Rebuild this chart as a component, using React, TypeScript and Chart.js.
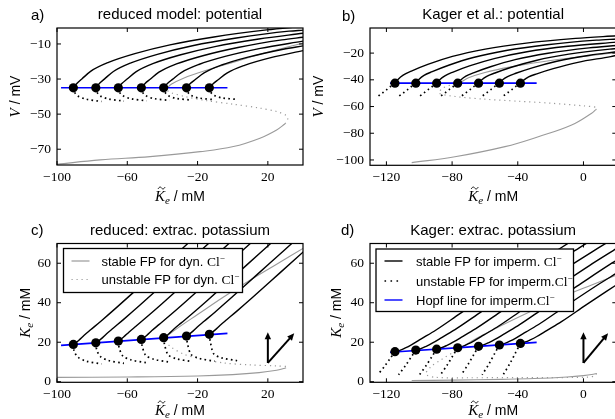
import React, { useEffect, useRef } from "react";
import { Chart, registerables } from "chart.js";

Chart.register(...registerables);

const SERIF = '"Liberation Serif", "DejaVu Serif", serif';
const SANS = '"Liberation Sans", Arial, "DejaVu Sans", sans-serif';
const GRAY = "#9a9a9a";
const BLUE = "#0000ff";

// ---------------- Panel a: reduced model, potential ----------------
const A_FP_X = [-90.7, -77.9, -65.1, -52.0, -39.3, -26.3, -13.3];
const A_FP_V = [-35, -35, -35, -35, -35, -35, -35];
const A_HOPF_X = [-97.7, -3];
const A_HOPF_V = [-35, -35];
const A_STABLE_X = [
  [-90.7, -88.7, -85.7, -80.7, -70.7, -55.7, -35.7, -10.7, 19.3, 39.3],
  [-77.9, -75.9, -72.9, -67.9, -57.9, -42.9, -22.9, 2.1, 32.1, 40],
  [-65.1, -63.1, -60.1, -55.1, -45.1, -30.1, -10.1, 14.9, 40],
  [-52, -50, -47, -42, -32, -17, 3, 28, 40],
  [-39.3, -37.3, -34.3, -29.3, -19.3, -4.3, 15.7, 40],
  [-26.3, -24.3, -21.3, -16.3, -6.3, 8.7, 28.7, 40],
  [-13.3, -11.3, -8.3, -3.3, 6.7, 21.7, 40],
];
const A_STABLE_V = [
  [-35, -32.5, -29.8, -25.5, -20.5, -15.5, -10.5, -6, -2, 0],
  [-35, -32.55, -29.9, -25.7, -20.8, -15.9, -11, -6.6, -2.7, -2.1],
  [-35, -32.6, -30, -25.9, -21.1, -16.3, -11.5, -7.2, -3.9],
  [-35, -32.65, -30.1, -26.1, -21.4, -16.7, -12, -7.7, -6.2],
  [-35, -32.7, -30.2, -26.3, -21.7, -17.1, -12.5, -8.4],
  [-35, -32.75, -30.3, -26.5, -22, -17.5, -13, -11.1],
  [-35, -32.8, -30.4, -26.6, -22.2, -17.8, -13.8],
];
const A_UNSTABLE_X = [
  [-90.7, -90.2, -88.2, -83.7, -74.7],
  [-77.9, -77.4, -75.4, -70.9, -61.9],
  [-65.1, -64.6, -62.6, -58.1, -49.1],
  [-52, -51.5, -49.5, -45, -36],
  [-39.3, -38.8, -36.8, -32.3, -23.3],
  [-26.3, -25.8, -23.8, -19.3, -10.3],
  [-13.3, -12.8, -10.8, -6.3, 2.7],
];
const A_UNSTABLE_V = [
  [-35, -37.2, -39.6, -41.4, -42.8],
  [-35, -37.2, -39.6, -41.3, -42.6],
  [-35, -37.2, -39.5, -41.2, -42.4],
  [-35, -37.2, -39.5, -41.1, -42.2],
  [-35, -37.1, -39.4, -41, -42],
  [-35, -37.1, -39.3, -40.8, -41.8],
  [-35, -37.1, -39.2, -40.7, -41.6],
];
const A_GRAY_LOW_X = [-100, -75.5, -47, -18.6, 0.4, 15.5, 25, 29.8];
const A_GRAY_LOW_V = [-78.6, -76.1, -74.2, -71.4, -68.5, -63.7, -59, -55.5];
const A_GRAY_MID_X = [29.8, 31.3, 30.5, 25, 15, 0, -15, -27, -35, -38];
const A_GRAY_MID_V = [-55.5, -53, -50.8, -48.5, -46.5, -44.3, -42.3, -40, -37.8, -36];
const A_GRAY_UP_X = [-38, -35, -28, -15, 0, 15, 30, 40];
const A_GRAY_UP_V = [-36, -33, -29.5, -25, -20.5, -16, -12, -9.5];

// ---------------- Panel b: Kager, potential ----------------
const B_FP_X = [-114.8, -102.1, -89.4, -76.6, -63.9, -51.2, -38.4];
const B_FP_V = [-42.5, -42.5, -42.5, -42.5, -42.5, -42.5, -42.5];
const B_HOPF_X = [-117.8, -28.5];
const B_HOPF_V = [-42.5, -42.5];
const B_STABLE_X = [
  [-114.8, -112.8, -109.8, -104.8, -94.8, -79.8, -59.8, -34.8, -4.8, 20.2],
  [-102.1, -100.1, -97.1, -92.1, -82.1, -67.1, -47.1, -22.1, 7.9, 20.2],
  [-89.4, -87.4, -84.4, -79.4, -69.4, -54.4, -34.4, -9.4, 20.2],
  [-76.6, -74.6, -71.6, -66.6, -56.6, -41.6, -21.6, 3.4, 20.2],
  [-63.9, -61.9, -58.9, -53.9, -43.9, -28.9, -8.9, 16.1, 20.2],
  [-51.2, -49.2, -46.2, -41.2, -31.2, -16.2, 3.8, 20.2],
  [-38.4, -36.4, -33.4, -28.4, -18.4, -3.4, 16.6, 20.2],
];
const B_STABLE_V = [
  [-42.5, -39.5, -36.5, -33.5, -28.5, -22.5, -17, -12.5, -9, -7],
  [-42.5, -39.6, -36.7, -33.9, -29.1, -23.3, -18, -13.7, -10.3, -9.4],
  [-42.5, -39.7, -37, -34.2, -29.6, -24.1, -19, -14.9, -11.8],
  [-42.5, -39.9, -37.2, -34.6, -30.2, -24.9, -20.1, -16.1, -14.3],
  [-42.5, -40, -37.4, -34.9, -30.6, -25.5, -20.8, -17, -16.6],
  [-42.5, -40, -37.6, -35.1, -31, -26.1, -21.6, -19],
  [-42.5, -40.2, -37.8, -35.5, -31.6, -26.9, -22.6, -21.7],
];
const B_UNSTABLE_X = [
  [-114.8, -117.3, -119.8, -122.6, -125.3],
  [-102.1, -104.6, -107.1, -109.9, -112.6],
  [-89.4, -91.9, -94.4, -97.2, -99.9],
  [-76.6, -79.1, -81.6, -84.4, -87.1],
  [-63.9, -66.4, -68.9, -71.7, -74.4],
  [-51.2, -53.7, -56.2, -59, -61.7],
  [-38.4, -40.9, -43.4, -46.2, -48.9],
];
const B_UNSTABLE_V = [
  [-42.5, -44.8, -47.3, -50, -52.5],
  [-42.5, -44.8, -47.3, -50, -52.4],
  [-42.5, -44.8, -47.2, -49.9, -52.4],
  [-42.5, -44.8, -47.2, -49.9, -52.3],
  [-42.5, -44.7, -47.2, -49.8, -52.3],
  [-42.5, -44.7, -47.1, -49.8, -52.2],
  [-42.5, -44.7, -47.1, -49.7, -52.2],
];
const B_GRAY_LOW_X = [-104.6, -78.3, -47.8, -27.5, -7.2, 5, 7.4];
const B_GRAY_LOW_V = [-102, -97.6, -90, -82.6, -73.8, -65, -62.5];
const B_GRAY_MID_X = [7.4, 8.4, 0, -20, -40, -60, -78, -88, -86, -80, -75];
const B_GRAY_MID_V = [-62.5, -60.8, -59.5, -57.5, -56, -54.5, -52.5, -50, -46.5, -43.5, -42];
const B_GRAY_UP_X = [-75, -70, -60, -45, -25, 0, 20.2];
const B_GRAY_UP_V = [-42, -38.5, -34.5, -30.5, -26.5, -22.5, -19.5];

// ---------------- Panel c: reduced, extracellular potassium ----------------
const C_FP_X = [-90.7, -77.9, -65.1, -52.0, -39.3, -26.3, -13.3];
const C_FP_K = [18.9, 19.7, 20.6, 21.4, 22.3, 23.1, 24.0];
const C_HOPF_X = [-97.7, -3];
const C_HOPF_K = [18.4, 24.5];
const C_STABLE_X = [
  [-90.7, -87.7, -84.7, -80.7, -74.7, -65.7, -50.7, -35.7, -20.7],
  [-77.9, -74.9, -71.9, -67.9, -61.9, -52.9, -37.9, -22.9, -7.9],
  [-65.1, -62.1, -59.1, -55.1, -49.1, -40.1, -25.1, -10.1, 4.9],
  [-52, -49, -46, -42, -36, -27, -12, 3, 18],
  [-39.3, -36.3, -33.3, -29.3, -23.3, -14.3, 0.7, 15.7, 30.7],
  [-26.3, -23.3, -20.3, -16.3, -10.3, -1.3, 13.7, 28.7, 43.7],
  [-13.3, -10.3, -7.3, -3.3, 2.7, 11.7, 26.7, 41.7],
];
const C_STABLE_K = [
  [18.9, 20.9, 23.4, 26.4, 30.9, 37.9, 49.9, 61.9, 73.9],
  [19.7, 21.7, 24.2, 27.2, 31.7, 38.7, 50.7, 62.7, 74.7],
  [20.6, 22.6, 25.1, 28.1, 32.6, 39.6, 51.6, 63.6, 75.6],
  [21.4, 23.4, 25.9, 28.9, 33.4, 40.4, 52.4, 64.4, 76.4],
  [22.3, 24.3, 26.8, 29.8, 34.3, 41.3, 53.3, 65.3, 77.3],
  [23.1, 25.1, 27.6, 30.6, 35.1, 42.1, 54.1, 66.1, 78.1],
  [24, 26, 28.5, 31.5, 36, 43, 55, 67],
];
const C_UNSTABLE_X = [
  [-90.7, -90.2, -88.2, -83.7, -74.7],
  [-77.9, -77.4, -75.4, -70.9, -61.9],
  [-65.1, -64.6, -62.6, -58.1, -49.1],
  [-52, -51.5, -49.5, -45, -36],
  [-39.3, -38.8, -36.8, -32.3, -23.3],
  [-26.3, -25.8, -23.8, -19.3, -10.3],
  [-13.3, -12.8, -10.8, -6.3, 2.7],
];
const C_UNSTABLE_K = [
  [18.9, 15.4, 12.5, 10.5, 9],
  [19.7, 16.2, 12.8, 10.8, 9.3],
  [20.6, 17.1, 13.1, 11.1, 9.6],
  [21.4, 17.9, 13.4, 11.4, 9.9],
  [22.3, 18.8, 13.7, 11.7, 10.2],
  [23.1, 19.6, 13.9, 11.9, 10.4],
  [24, 20.5, 14.1, 12.1, 10.6],
];
const C_GRAY_LOW_X = [-100, -60, -20, 0, 15, 25, 29.8];
const C_GRAY_LOW_K = [2.2, 2.4, 2.9, 3.6, 4.6, 5.8, 6.8];
const C_GRAY_MID_X = [29.8, 31.3, 25, 10, -5, -18, -28, -35, -39];
const C_GRAY_MID_K = [6.8, 7.6, 8, 8.5, 9.5, 11.5, 14, 17.5, 21];
const C_GRAY_UP_X = [-39, -37, -30, -20, -5, 10, 25, 40];
const C_GRAY_UP_K = [21, 23.3, 28, 34, 43, 51.5, 59.5, 67.5];
const C_ARROW_FROM = [20, 9.5];
const C_ARROW_TO_X = [20, 35];
const C_ARROW_TO_K = [25, 24.5];

// ---------------- Panel d: Kager, extracellular potassium ----------------
const D_FP_X = [-114.8, -102.1, -89.4, -76.6, -63.9, -51.2, -38.4];
const D_FP_K = [15.2, 16.0, 16.5, 17.2, 17.9, 18.6, 19.4];
const D_HOPF_X = [-117.8, -28.5];
const D_HOPF_K = [14.9, 19.9];
const D_STABLE_X = [
  [-114.8, -111.8, -108.8, -104.8, -98.8, -89.8, -74.8, -54.8, -34.8, -14.8, 0.2],
  [-102.1, -99.1, -96.1, -92.1, -86.1, -77.1, -62.1, -42.1, -22.1, -2.1, 12.9],
  [-89.4, -86.4, -83.4, -79.4, -73.4, -64.4, -49.4, -29.4, -9.4, 10.6, 20.2],
  [-76.6, -73.6, -70.6, -66.6, -60.6, -51.6, -36.6, -16.6, 3.4, 20.2],
  [-63.9, -60.9, -57.9, -53.9, -47.9, -38.9, -23.9, -3.9, 16.1, 20.2],
  [-51.2, -48.2, -45.2, -41.2, -35.2, -26.2, -11.2, 8.8, 20.2],
  [-38.4, -35.4, -32.4, -28.4, -22.4, -13.4, 1.6, 20.2],
];
const D_STABLE_K = [
  [15.2, 15.9, 17, 18.7, 21.7, 26.2, 34.7, 45.7, 56.7, 67.2, 75.2],
  [16, 16.7, 17.8, 19.5, 22.5, 27, 35.5, 46.5, 57.5, 68, 76],
  [16.5, 17.2, 18.3, 20, 23, 27.5, 36, 47, 58, 68.5, 73.5],
  [17.2, 17.9, 19, 20.7, 23.7, 28.2, 36.7, 47.7, 58.7, 67.5],
  [17.9, 18.6, 19.7, 21.4, 24.4, 28.9, 37.4, 48.4, 59.4, 61.5],
  [18.6, 19.3, 20.4, 22.1, 25.1, 29.6, 38.1, 49.1, 55],
  [19.4, 20.1, 21.2, 22.9, 25.9, 30.4, 38.9, 49.1],
];
const D_UNSTABLE_X = [
  [-114.8, -117.8, -121, -125.3],
  [-102.1, -105.1, -108.3, -112.6],
  [-89.4, -92.4, -95.6, -99.9],
  [-76.6, -79.6, -82.8, -87.1],
  [-63.9, -66.9, -70.1, -74.4],
  [-51.2, -54.2, -57.4, -61.7],
  [-38.4, -41.4, -44.6, -48.9],
];
const D_UNSTABLE_K = [
  [15.2, 11.7, 7.95, 3.5],
  [16, 12.25, 8.25, 3.5],
  [16.5, 12.6, 8.44, 3.5],
  [17.2, 13.1, 8.7, 3.5],
  [17.9, 13.6, 9, 3.5],
  [18.6, 14.1, 9.2, 3.5],
  [19.4, 14.6, 9.5, 3.5],
];
const D_GRAY_LOW_X = [-104.6, -80, -50, -30, -10, 0, 6, 8];
const D_GRAY_LOW_K = [0.6, 0.8, 1.2, 1.6, 2.4, 3.1, 3.8, 4.2];
const D_GRAY_MID_X = [8, 7, 3, -20, -40, -70, -90, -96, -93, -86, -79, -75];
const D_GRAY_MID_K = [4.2, 3, 2.3, 2.1, 2.1, 2, 2.2, 3.8, 7.5, 11.5, 15, 16.8];
const D_GRAY_UP_X = [-75, -72, -65, -50, -30, -10, 5, 20.2];
const D_GRAY_UP_K = [16.8, 18.5, 22, 28.5, 36.5, 44, 49, 54];
const D_ARROW_FROM = [0, 9.5];
const D_ARROW_TO_X = [0, 15];
const D_ARROW_TO_K = [25, 24.5];

// ---------------- tick values ----------------
const X_TICKS_REDUCED = [-100, -60, -20, 20];
const X_TICKS_KAGER = [-120, -80, -40, 0];
const Y_TICKS_A = [-70, -50, -30, -10];
const Y_TICKS_B = [-100, -80, -60, -40, -20];
const Y_TICKS_K = [0, 20, 40, 60];

// ---------------- helpers ----------------
const pts = (xs: number[], ys: number[]) => xs.map((x, i) => ({ x, y: ys[i] }));

function solidLine(xs: number[], ys: number[], color: string, width: number, mono: boolean) {
  const base: any = {
    data: pts(xs, ys),
    showLine: true,
    borderColor: color,
    backgroundColor: color,
    borderWidth: width,
    pointRadius: 0,
    fill: false,
  };
  if (mono) base.cubicInterpolationMode = "monotone";
  else base.tension = 0.4;
  return base;
}
function dottedLine(xs: number[], ys: number[], color: string, width: number, dash: number[]) {
  return {
    data: pts(xs, ys),
    showLine: true,
    borderColor: color,
    backgroundColor: color,
    borderWidth: width,
    borderDash: dash,
    pointRadius: 0,
    tension: 0.3,
    fill: false,
  };
}
function dots(xs: number[], ys: number[]) {
  return {
    data: pts(xs, ys),
    showLine: false,
    pointRadius: 4.6,
    pointBackgroundColor: "#000",
    pointBorderColor: "#000",
    pointBorderWidth: 0,
  };
}

function buildDatasets(
  fpX: number[], fpY: number[], hX: number[], hY: number[],
  sX: number[][], sY: number[][], uX: number[][], uY: number[][],
  gUpX: number[], gUpY: number[], gMidX: number[], gMidY: number[], gLowX: number[], gLowY: number[]
) {
  return [
    dots(fpX, fpY),
    solidLine(hX, hY, BLUE, 1.6, false),
    ...sX.map((xs, i) => solidLine(xs, sY[i], "#000", 1.4, true)),
    ...uX.map((xs, i) => dottedLine(xs, uY[i], "#000", 1.7, [1.6, 3.2])),
    solidLine(gUpX, gUpY, GRAY, 1.1, false),
    dottedLine(gMidX, gMidY, GRAY, 1.2, [1.2, 3.8]),
    solidLine(gLowX, gLowY, GRAY, 1.1, false),
  ];
}

type Run = { t: string; font: string; dy?: number; tilde?: boolean };

function drawTilde(ctx: CanvasRenderingContext2D, cx: number, cy: number) {
  ctx.save();
  ctx.lineWidth = 0.9;
  ctx.beginPath();
  ctx.moveTo(cx - 3.5, cy + 1);
  ctx.bezierCurveTo(cx - 2.2, cy - 1.6, cx - 0.8, cy - 1.2, cx, cy);
  ctx.bezierCurveTo(cx + 0.8, cy + 1.2, cx + 2.2, cy + 1.6, cx + 3.5, cy - 1);
  ctx.stroke();
  ctx.restore();
}

function drawRuns(ctx: CanvasRenderingContext2D, runs: Run[], x: number, y: number, align: "left" | "center") {
  ctx.textAlign = "left";
  ctx.textBaseline = "alphabetic";
  const widths = runs.map((r) => {
    ctx.font = r.font;
    return ctx.measureText(r.t).width;
  });
  const total = widths.reduce((a, b) => a + b, 0);
  let cx = align === "center" ? x - total / 2 : x;
  runs.forEach((r, i) => {
    ctx.font = r.font;
    ctx.fillText(r.t, cx, y + (r.dy || 0));
    if (r.tilde) drawTilde(ctx, cx + widths[i] / 2 + 1.5, y - 13);
    cx += widths[i];
  });
}

const KT_LABEL: Run[] = [
  { t: "K", font: `italic 15px ${SERIF}`, tilde: true },
  { t: "e", font: `italic 11px ${SERIF}`, dy: 3 },
  { t: " / mM", font: `14px ${SANS}` },
];
const V_LABEL: Run[] = [
  { t: "V", font: `italic 15px ${SERIF}` },
  { t: " / mV", font: `14px ${SANS}` },
];
const K_LABEL: Run[] = [
  { t: "K", font: `italic 15px ${SERIF}` },
  { t: "e", font: `italic 11px ${SERIF}`, dy: 3 },
  { t: " / mM", font: `14px ${SANS}` },
];
const clRuns = (pre: string): Run[] => [
  { t: pre, font: `13px ${SANS}` },
  { t: "Cl", font: `13.5px ${SERIF}` },
  { t: "\u2212", font: `9px ${SERIF}`, dy: -5 },
];

const fmt = (v: number) => (v < 0 ? "\u2212" + Math.abs(v) : String(v));

type LegendItem = { kind: "solid" | "dotted"; color: string; runs: Run[] };
type Panel = {
  box: { L: number; R: number; T: number; B: number };
  xMin: number; xMax: number; yMin: number; yMax: number;
  xTicks: number[]; yTicks: number[];
  title: string; titleY: number;
  tag: string; tagX: number; tagY: number;
  yLabel: Run[]; yLabelX: number; xLabelY: number;
  datasets: any[];
  legend?: { x: number; y: number; w: number; h: number; rows: number[]; lx0: number; lx1: number; tx: number; items: LegendItem[] };
  arrows?: { from: number[]; toX: number[]; toY: number[] };
};

const PANELS: Panel[] = [
  {
    box: { L: 57, R: 303, T: 28, B: 165 },
    xMin: -100, xMax: 40, yMin: -79, yMax: -0.9,
    xTicks: X_TICKS_REDUCED, yTicks: Y_TICKS_A,
    title: "reduced model: potential", titleY: 15,
    tag: "a)", tagX: 31, tagY: 16,
    yLabel: V_LABEL, yLabelX: 15, xLabelY: 201,
    datasets: buildDatasets(A_FP_X, A_FP_V, A_HOPF_X, A_HOPF_V, A_STABLE_X, A_STABLE_V, A_UNSTABLE_X, A_UNSTABLE_V,
      A_GRAY_UP_X, A_GRAY_UP_V, A_GRAY_MID_X, A_GRAY_MID_V, A_GRAY_LOW_X, A_GRAY_LOW_V),
  },
  {
    box: { L: 370, R: 616.3, T: 28, B: 165.3 },
    xMin: -130, xMax: 20, yMin: -104, yMax: -1.2,
    xTicks: X_TICKS_KAGER, yTicks: Y_TICKS_B,
    title: "Kager et al.: potential", titleY: 15,
    tag: "b)", tagX: 342, tagY: 17,
    yLabel: V_LABEL, yLabelX: 318, xLabelY: 201,
    datasets: buildDatasets(B_FP_X, B_FP_V, B_HOPF_X, B_HOPF_V, B_STABLE_X, B_STABLE_V, B_UNSTABLE_X, B_UNSTABLE_V,
      B_GRAY_UP_X, B_GRAY_UP_V, B_GRAY_MID_X, B_GRAY_MID_V, B_GRAY_LOW_X, B_GRAY_LOW_V),
  },
  {
    box: { L: 57, R: 303, T: 243.5, B: 382.3 },
    xMin: -100, xMax: 40, yMin: -0.3, yMax: 70,
    xTicks: X_TICKS_REDUCED, yTicks: Y_TICKS_K,
    title: "reduced: extrac. potassium", titleY: 231,
    tag: "c)", tagX: 31, tagY: 231,
    yLabel: K_LABEL, yLabelX: 25, xLabelY: 415,
    datasets: buildDatasets(C_FP_X, C_FP_K, C_HOPF_X, C_HOPF_K, C_STABLE_X, C_STABLE_K, C_UNSTABLE_X, C_UNSTABLE_K,
      C_GRAY_UP_X, C_GRAY_UP_K, C_GRAY_MID_X, C_GRAY_MID_K, C_GRAY_LOW_X, C_GRAY_LOW_K),
    legend: {
      x: 63.5, y: 248.5, w: 179, h: 44, rows: [261, 279.5], lx0: 71.5, lx1: 89.5, tx: 101.5,
      items: [
        { kind: "solid", color: GRAY, runs: clRuns("stable FP for dyn. ") },
        { kind: "dotted", color: GRAY, runs: clRuns("unstable FP for dyn. ") },
      ],
    },
    arrows: { from: C_ARROW_FROM, toX: C_ARROW_TO_X, toY: C_ARROW_TO_K },
  },
  {
    box: { L: 370, R: 616.3, T: 243.5, B: 382.3 },
    xMin: -130, xMax: 20, yMin: -0.3, yMax: 70,
    xTicks: X_TICKS_KAGER, yTicks: Y_TICKS_K,
    title: "Kager: extrac. potassium", titleY: 231,
    tag: "d)", tagX: 341, tagY: 231,
    yLabel: K_LABEL, yLabelX: 336, xLabelY: 415,
    datasets: buildDatasets(D_FP_X, D_FP_K, D_HOPF_X, D_HOPF_K, D_STABLE_X, D_STABLE_K, D_UNSTABLE_X, D_UNSTABLE_K,
      D_GRAY_UP_X, D_GRAY_UP_K, D_GRAY_MID_X, D_GRAY_MID_K, D_GRAY_LOW_X, D_GRAY_LOW_K),
    legend: {
      x: 376, y: 249, w: 197.5, h: 62.5, rows: [261, 281, 300], lx0: 384.5, lx1: 402.5, tx: 416,
      items: [
        { kind: "solid", color: "#000", runs: clRuns("stable FP for imperm. ") },
        { kind: "dotted", color: "#000", runs: clRuns("unstable FP for imperm.") },
        { kind: "solid", color: BLUE, runs: clRuns("Hopf line for imperm.") },
      ],
    },
    arrows: { from: D_ARROW_FROM, toX: D_ARROW_TO_X, toY: D_ARROW_TO_K },
  },
];

function arrow(ctx: CanvasRenderingContext2D, x0: number, y0: number, x1: number, y1: number) {
  const a = Math.atan2(y1 - y0, x1 - x0);
  const hl = 7, hw = 3.2;
  ctx.beginPath();
  ctx.moveTo(x0, y0);
  ctx.lineTo(x1 - (hl - 1) * Math.cos(a), y1 - (hl - 1) * Math.sin(a));
  ctx.stroke();
  ctx.beginPath();
  ctx.moveTo(x1, y1);
  ctx.lineTo(x1 - hl * Math.cos(a) + hw * Math.sin(a), y1 - hl * Math.sin(a) - hw * Math.cos(a));
  ctx.lineTo(x1 - hl * Math.cos(a) - hw * Math.sin(a), y1 - hl * Math.sin(a) + hw * Math.cos(a));
  ctx.closePath();
  ctx.fill();
}

function makeDeco(p: Panel) {
  return {
    id: "deco",
    afterDraw(chart: any) {
      const ctx: CanvasRenderingContext2D = chart.ctx;
      const xs = chart.scales.x;
      const ys = chart.scales.y;
      const { left: L, right: R, top: T, bottom: B } = chart.chartArea;
      ctx.save();
      ctx.fillStyle = "#000";
      ctx.strokeStyle = "#000";

      if (p.arrows) {
        ctx.save();
        ctx.beginPath();
        ctx.rect(L, T, R - L, B - T);
        ctx.clip();
        ctx.lineWidth = 2;
        const x0 = xs.getPixelForValue(p.arrows.from[0]);
        const y0 = ys.getPixelForValue(p.arrows.from[1]);
        p.arrows.toX.forEach((tx, i) => {
          arrow(ctx, x0, y0, xs.getPixelForValue(tx), ys.getPixelForValue(p.arrows!.toY[i]));
        });
        ctx.restore();
      }

      if (p.legend) {
        const lg = p.legend;
        ctx.fillStyle = "#fff";
        ctx.fillRect(lg.x, lg.y, lg.w, lg.h);
        ctx.lineWidth = 1.3;
        ctx.strokeStyle = "#000";
        ctx.strokeRect(lg.x, lg.y, lg.w, lg.h);
        lg.items.forEach((it, i) => {
          const ry = lg.rows[i];
          ctx.save();
          ctx.strokeStyle = it.color;
          if (it.kind === "dotted") {
            ctx.lineWidth = it.color === GRAY ? 1.2 : 1.7;
            ctx.setLineDash(it.color === GRAY ? [1.2, 3.8] : [1.6, 4.4]);
          } else {
            ctx.lineWidth = it.color === GRAY ? 1.2 : 1.4;
          }
          ctx.beginPath();
          ctx.moveTo(lg.lx0, ry);
          ctx.lineTo(lg.lx1, ry);
          ctx.stroke();
          ctx.restore();
          ctx.fillStyle = "#000";
          drawRuns(ctx, it.runs, lg.tx, ry + 4.6, "left");
        });
      }

      ctx.strokeStyle = "#000";
      ctx.lineWidth = 1.2;
      ctx.strokeRect(L, T, R - L, B - T);

      ctx.lineWidth = 1;
      ctx.beginPath();
      p.xTicks.forEach((v) => {
        const px = xs.getPixelForValue(v);
        ctx.moveTo(px, B);
        ctx.lineTo(px, B - 4);
        ctx.moveTo(px, T);
        ctx.lineTo(px, T + 4);
      });
      p.yTicks.forEach((v) => {
        const py = ys.getPixelForValue(v);
        ctx.moveTo(L, py);
        ctx.lineTo(L + 4, py);
        ctx.moveTo(R, py);
        ctx.lineTo(R - 4, py);
      });
      ctx.stroke();

      ctx.fillStyle = "#000";
      ctx.font = `13.5px ${SERIF}`;
      ctx.textBaseline = "middle";
      ctx.textAlign = "center";
      p.xTicks.forEach((v) => ctx.fillText(fmt(v), xs.getPixelForValue(v), B + 12));
      ctx.textAlign = "right";
      p.yTicks.forEach((v) => ctx.fillText(fmt(v), L - 6, ys.getPixelForValue(v)));

      ctx.font = `15px ${SANS}`;
      ctx.textAlign = "center";
      ctx.fillText(p.title, (L + R) / 2, p.titleY);
      ctx.textAlign = "left";
      ctx.fillText(p.tag, p.tagX, p.tagY);

      drawRuns(ctx, KT_LABEL, (L + R) / 2, p.xLabelY, "center");
      ctx.save();
      ctx.translate(p.yLabelX, (T + B) / 2);
      ctx.rotate(-Math.PI / 2);
      drawRuns(ctx, p.yLabel, 0, 5, "center");
      ctx.restore();

      ctx.restore();
    },
  };
}

const CW = 630;
const CH = 419;

function buildConfig(p: Panel): any {
  return {
    type: "scatter",
    data: { datasets: p.datasets },
    options: {
      responsive: false,
      animation: false,
      devicePixelRatio: 1,
      events: [],
      layout: {
        padding: { left: p.box.L, top: p.box.T, right: CW - p.box.R, bottom: CH - p.box.B },
      },
      plugins: {
        legend: { display: false },
        tooltip: { enabled: false },
        title: { display: false },
      },
      scales: {
        x: { type: "linear", display: false, min: p.xMin, max: p.xMax },
        y: { type: "linear", display: false, min: p.yMin, max: p.yMax },
      },
    },
    plugins: [makeDeco(p)],
  };
}

export default function App() {
  const r0 = useRef<HTMLCanvasElement>(null);
  const r1 = useRef<HTMLCanvasElement>(null);
  const r2 = useRef<HTMLCanvasElement>(null);
  const r3 = useRef<HTMLCanvasElement>(null);
  const refs = [r0, r1, r2, r3];

  useEffect(() => {
    const charts = PANELS.map((p, i) => new Chart(refs[i].current as HTMLCanvasElement, buildConfig(p)));
    return () => charts.forEach((c) => c.destroy());
  }, []);

  return (
    <div
      style={{
        position: "fixed",
        left: 0,
        top: 0,
        width: 615,
        height: 419,
        overflow: "hidden",
        background: "#fff",
      }}
    >
      {refs.map((r, i) => (
        <canvas
          key={i}
          ref={r}
          width={CW}
          height={CH}
          style={{ position: "absolute", left: 0, top: 0, width: CW, height: CH }}
        />
      ))}
    </div>
  );
}
